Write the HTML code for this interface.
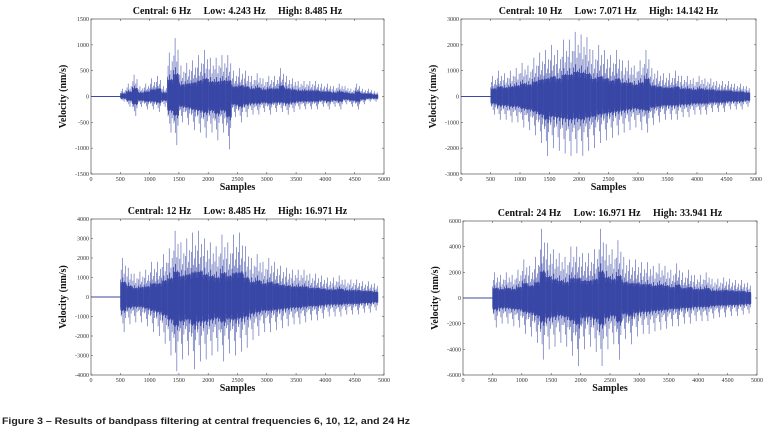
<!DOCTYPE html>
<html><head><meta charset="utf-8">
<style>
html,body{margin:0;padding:0;background:#fff;width:766px;height:431px;overflow:hidden}
svg{display:block}
text{font-family:"Liberation Serif",serif;white-space:pre}
</style></head>
<body>
<svg id="chart" width="766" height="431" viewBox="0 0 766 431" xmlns="http://www.w3.org/2000/svg">
<text x="2" y="424" font-size="9.6" style="font-family:'Liberation Sans',sans-serif" font-weight="bold" fill="#222" textLength="408" lengthAdjust="spacingAndGlyphs">Figure 3 – Results of bandpass filtering at central frequencies 6, 10, 12, and 24 Hz</text>
</svg>
<script>
// bins of 100 samples starting at sample 500
const binStart = 500, binWidth = 100;
const titles = ["Central: 6 Hz     Low: 4.243 Hz     High: 8.485 Hz","Central: 10 Hz     Low: 7.071 Hz     High: 14.142 Hz","Central: 12 Hz     Low: 8.485 Hz     High: 16.971 Hz","Central: 24 Hz     Low: 16.971 Hz     High: 33.941 Hz"];
const yTicks1 = [-1500,-1000,-500,0,500,1000,1500];
const yTicks2 = [-3000,-2000,-1000,0,1000,2000,3000];
const yTicks3 = [-4000,-3000,-2000,-1000,0,1000,2000,3000,4000];
const yTicks4 = [-6000,-4000,-2000,0,2000,4000,6000];
const xTicks = [0,500,1000,1500,2000,2500,3000,3500,4000,4500,5000];
const max1 = [150,250,420,200,250,350,400,200,850,1130,600,650,700,800,900,750,750,800,800,500,550,500,400,450,350,400,400,550,400,350,300,300,300,300,250,250,200,250,200,150,250,150,150,100];
const min1 = [-100,-200,-380,-200,-250,-250,-300,-200,-700,-940,-500,-550,-650,-700,-800,-700,-850,-700,-1020,-400,-500,-400,-350,-350,-300,-350,-300,-300,-350,-300,-250,-250,-250,-250,-200,-250,-200,-250,-150,-200,-250,-150,-100,-100];
const max2 = [800,1000,900,1000,1100,1300,1200,1500,1700,1800,2000,1800,2200,2200,2500,2400,2300,1800,2000,1800,1600,1800,1400,1400,1200,1400,1800,1100,1000,900,900,1000,800,800,700,800,700,700,600,600,600,500,500,400];
const min2 = [-700,-900,-900,-1000,-1000,-1200,-1300,-1500,-1800,-2300,-2000,-2100,-2200,-2300,-2200,-2300,-2100,-2000,-1800,-1700,-1600,-1500,-1400,-1300,-1200,-1300,-1400,-1100,-1000,-900,-900,-900,-800,-800,-700,-700,-700,-600,-600,-600,-500,-500,-500,-400];
const max3 = [2000,1500,1200,1300,1400,1800,1800,2200,2500,3400,2800,3000,3300,3400,3000,2800,2600,3200,2800,3200,3300,2600,2000,2200,1800,2000,1800,1600,1500,1400,1400,1400,1200,1200,1100,1000,1000,1100,900,900,900,800,800,700];
const min3 = [-1800,-1400,-1300,-1300,-1500,-1800,-2000,-2400,-3000,-3800,-3200,-3000,-3700,-3300,-3200,-3000,-2800,-3300,-2900,-3000,-2800,-2600,-2200,-2000,-1800,-1800,-1700,-1600,-1500,-1400,-1400,-1300,-1200,-1200,-1100,-1000,-1000,-1000,-900,-900,-900,-800,-800,-700];
const max4 = [2000,1800,2000,1800,2200,3000,2500,3200,5400,4300,3800,3500,3200,4000,4000,3500,3500,3800,5400,4200,3800,4500,3200,3000,3000,2800,2800,2500,2700,2500,2200,2700,2000,2200,1800,1800,2000,1500,1500,1600,1500,1400,1400,1200];
const min4 = [-2300,-2000,-2000,-2200,-2300,-2800,-3000,-3500,-4800,-4000,-3800,-3500,-3800,-4500,-5300,-4000,-3800,-4200,-5300,-4000,-3600,-4800,-3200,-3600,-3000,-2800,-2800,-2600,-2500,-2400,-2200,-2200,-2000,-2000,-1800,-1800,-1800,-1600,-1500,-1500,-1400,-1400,-1300,-1200];
const panels = [
 {x0:91,x1:384,y0:19,y1:174,yT:yTicks1,mx:max1,mn:min1,t:titles[0]},
 {x0:461,x1:756,y0:19,y1:174,yT:yTicks2,mx:max2,mn:min2,t:titles[1]},
 {x0:91,x1:384,y0:219,y1:375,yT:yTicks3,mx:max3,mn:min3,t:titles[2]},
 {x0:463,x1:757,y0:221,y1:375,yT:yTicks4,mx:max4,mn:min4,t:titles[3]}
];
// fixed stroke pattern within each bin (fractions of bin peak)
const pat=[[0.45,0.3],[0.7,0.55],[0.3,0.5],[1.0,0.4],[0.5,0.75],[0.35,0.35],[0.6,1.0],[0.4,0.45],[0.8,0.6],[0.3,0.4]];
const NS="http://www.w3.org/2000/svg", svg=document.getElementById('chart');
function mk(tag,attrs,parent){const e=document.createElementNS(NS,tag);for(const k in attrs)e.setAttribute(k,attrs[k]);(parent||svg).appendChild(e);return e;}
panels.forEach((p,pi)=>{
 const g=mk('g',{});
 
 
 const ymin=p.yT[0], ymax=p.yT[p.yT.length-1];
 const X=v=>p.x0+(v/5000)*(p.x1-p.x0);
 const Y=v=>p.y1-(v-ymin)/(ymax-ymin)*(p.y1-p.y0);
 const box=mk('rect',{x:p.x0,y:p.y0,width:p.x1-p.x0,height:p.y1-p.y0,fill:'none',stroke:'#555','stroke-width':0.7},g);
 
 
 const tt=mk('text',{x:(p.x0+p.x1)/2,y:p.y0-5,'font-size':10,'font-weight':'bold','text-anchor':'middle',fill:'#111'},g);
 tt.textContent=p.t;
 
 
 xTicks.forEach(v=>{
  mk('line',{x1:X(v),x2:X(v),y1:p.y1,y2:p.y1-2,stroke:'#555','stroke-width':0.6},g);
  mk('line',{x1:X(v),x2:X(v),y1:p.y0,y2:p.y0+2,stroke:'#555','stroke-width':0.6},g);
  const t=mk('text',{x:X(v),y:p.y1+7,'font-size':6,'text-anchor':'middle',fill:'#333'},g);
  t.textContent=v;
  
  
 });
 p.yT.forEach(v=>{
  mk('line',{x1:p.x0,x2:p.x0+2,y1:Y(v),y2:Y(v),stroke:'#555','stroke-width':0.6},g);
  mk('line',{x1:p.x1,x2:p.x1-2,y1:Y(v),y2:Y(v),stroke:'#555','stroke-width':0.6},g);
  const t=mk('text',{x:p.x0-2,y:Y(v)+2,'font-size':6,'text-anchor':'end',fill:'#333'},g);
  t.textContent=v;
  
  
 });
 const xl=mk('text',{x:(p.x0+p.x1)/2,y:p.y1+16,'font-size':10,'font-weight':'bold','text-anchor':'middle',fill:'#111'},g);
 xl.textContent='Samples';
 
 
 const cy=(p.y0+p.y1)/2, lx=p.x0-25;
 const yl=mk('text',{x:lx,y:cy,'font-size':10,'font-weight':'bold','text-anchor':'middle',transform:`rotate(-90 ${lx} ${cy})`,fill:'#111'},g);
 yl.textContent='Velocity (nm/s)';
 
 
 const base=mk('line',{x1:X(0),x2:X(binStart+50),y1:Y(0),y2:Y(0),stroke:'#3b48a6','stroke-width':1},g);
 
 
 const w=g.appendChild(document.createElementNS(NS,'g'));
 
 
 p.mx.forEach((hi,i)=>{
  const lo=p.mn[i], s=binStart+i*binWidth;
  const n=pat.length;
  let d='';
  pat.forEach((f,k)=>{
   const xx=X(s+binWidth*(k+0.5)/n);
   d+=`M${xx.toFixed(2)} ${Y(hi*f[0]).toFixed(2)}L${xx.toFixed(2)} ${Y(lo*f[1]).toFixed(2)}`;
  });
  mk('path',{d:d,stroke:'#3544a4','stroke-width':0.6,'stroke-opacity':0.9,fill:'none'},w);
  const ya=Y(hi*0.38), yb=Y(lo*0.38);
  mk('rect',{x:X(s),y:ya,width:X(s+binWidth)-X(s),height:yb-ya,fill:'#3544a4','fill-opacity':0.85},w);
 });
});
</script>
</body></html>
